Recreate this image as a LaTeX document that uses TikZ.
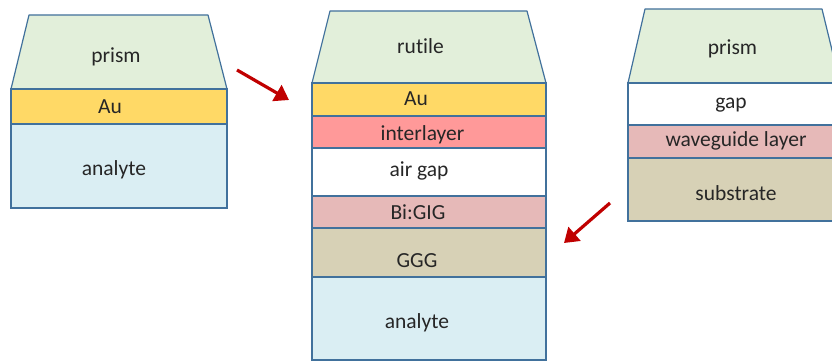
\documentclass[tikz,border=0pt]{standalone}
\usepackage{fontspec}
\setmainfont[Ligatures=NoCommon]{Carlito}
\usetikzlibrary{arrows.meta}
\definecolor{edge}{HTML}{41719C}
\definecolor{prismgreen}{HTML}{E2EFDA}
\definecolor{gold}{HTML}{FFD966}
\definecolor{aqua}{HTML}{DAEEF3}
\definecolor{rose}{HTML}{FF9999}
\definecolor{mauve}{HTML}{E6B9B8}
\definecolor{tan}{HTML}{D7D1B6}
\definecolor{ink}{HTML}{262626}
\definecolor{arrowred}{HTML}{C00000}
\tikzset{
  prismface/.style={draw=edge, fill=prismgreen, line width=1.2pt, line join=round},
  layer/.style={draw=edge, line width=1.2pt, inner sep=0pt, outer sep=0pt,
    anchor=north west},
  lbl/.style={text=ink, font=\fontsize{21.5}{24}\selectfont, inner sep=0pt,
    anchor=base},
  pointer/.style={draw=arrowred, line width=3.2pt,
    -{Triangle[length=14pt,width=18pt]}}
}
\begin{document}
\begin{tikzpicture}[x=1pt,y=-1pt]
\useasboundingbox (0,0) rectangle (832,361);
\clip (0,0) rectangle (832,361);

% left stack: prism / Au / analyte
\draw[prismface] (11,89) -- (29,15) -- (208,15) -- (227,89) -- cycle;
\node[layer, fill=gold, minimum width=216pt, minimum height=35pt] (lau) at (11,89) {};
\node[layer, fill=aqua, minimum width=216pt, minimum height=84pt] (lan) at (11,124) {};
\node[lbl] (tlprism) at (116,62.5) {prism};
\node[lbl] (tlau) at (110,113.3) {Au};
\node[lbl] (tlan) at (114,175.7) {analyte};

% middle stack
\draw[prismface] (312,83) -- (330,11) -- (527,11) -- (546,83) -- cycle;
\node[layer, fill=gold, minimum width=234pt, minimum height=33pt] (mau) at (312,83) {};
\node[layer, fill=rose, minimum width=234pt, minimum height=32pt] (mint) at (312,116) {};
\node[layer, fill=white, minimum width=234pt, minimum height=48pt] (mair) at (312,148) {};
\node[layer, fill=mauve, minimum width=234pt, minimum height=32pt] (mbig) at (312,196) {};
\node[layer, fill=tan, minimum width=234pt, minimum height=49pt] (mggg) at (312,228) {};
\node[layer, fill=aqua, minimum width=234pt, minimum height=83pt] (man) at (312,277) {};
\node[lbl] (tmprism) at (420.5,53.3) {rutile};
\node[lbl] (tmau) at (416,105.7) {Au};
\node[lbl] (tmint) at (422.5,140) {interlayer};
\node[lbl] (tmair) at (419,176.7) {air gap};
\node[lbl] (tmbig) at (418,219) {Bi:GIG};
\node[lbl] (tmggg) at (417,267.3) {GGG};
\node[lbl] (tman) at (417,328.3) {analyte};

% right stack: prism / gap / waveguide layer / substrate
\draw[prismface] (628,83) -- (645,9) -- (822,9) -- (840,83) -- cycle;
\node[layer, fill=white, minimum width=212pt, minimum height=42pt] (rgap) at (628,83) {};
\node[layer, fill=mauve, minimum width=212pt, minimum height=33pt] (rwg) at (628,125) {};
\node[layer, fill=tan, minimum width=212pt, minimum height=63pt] (rsub) at (628,158) {};
\node[lbl] (trprism) at (732.5,54.3) {prism};
\node[lbl] (trgap) at (731,108.3) {gap};
\node[lbl] (trwg) at (736,146.7) {waveguide layer};
\node[lbl] (trsub) at (736,200) {substrate};

% arrows between the stacks
\coordinate (a1s) at (237,70);
\coordinate (a1e) at (289,100);
\coordinate (a2s) at (610,203);
\coordinate (a2e) at (564,243);
\draw[pointer] (a1s) -- (a1e);
\draw[pointer] (a2s) -- (a2e);
\end{tikzpicture}
\end{document}
